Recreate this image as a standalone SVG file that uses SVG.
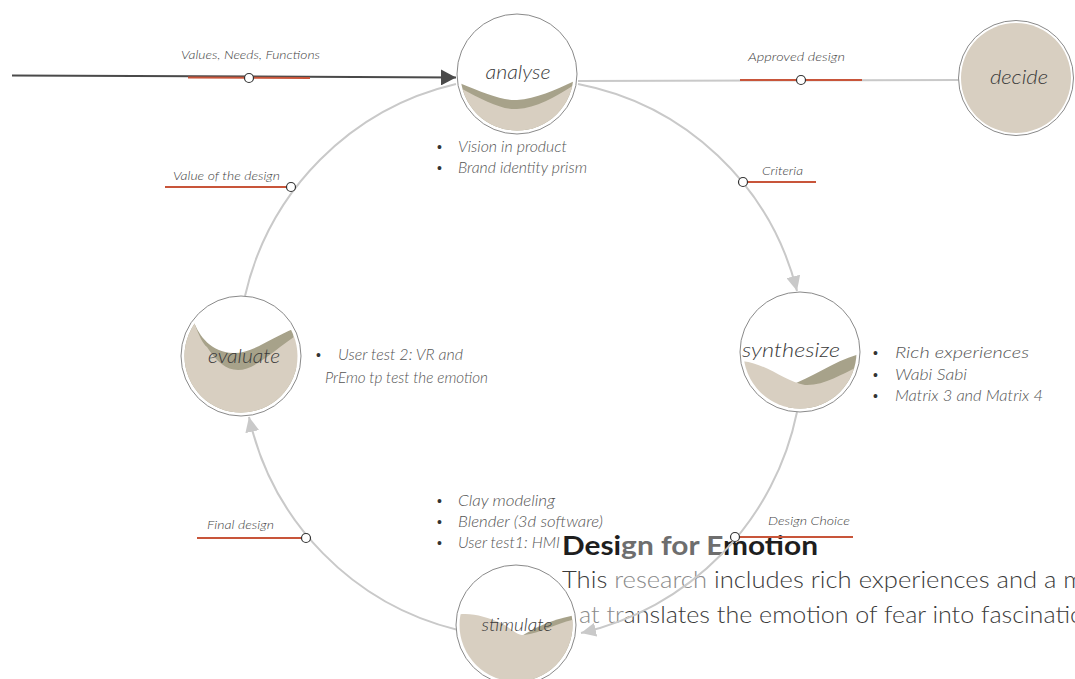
<svg xmlns="http://www.w3.org/2000/svg" width="1075" height="679" viewBox="0 0 1075 679">
  <style>
    .lbl { font-family: Lato, "Open Sans", "Liberation Sans", sans-serif; font-style: italic; font-weight: 300; font-size: 12.5px; fill: #444; }
    .bul { font-family: Lato, "Open Sans", "Liberation Sans", sans-serif; font-style: italic; font-weight: 300; font-size: 15px; fill: #555; }
    .dot { font-family: "Liberation Sans", sans-serif; font-size: 14px; fill: #333; }
    .name { font-family: Lato, "Open Sans", "Liberation Sans", sans-serif; font-style: italic; font-weight: 300; font-size: 20px; fill: #3a3a3a; text-anchor: middle; }
    .arc { fill: none; stroke: #c9c9c9; stroke-width: 2; }
    .tag { stroke: #c8553a; stroke-width: 2; }
    .pin { fill: #fff; stroke: #333; stroke-width: 1.2; }
    .ring { fill: #fff; stroke: #8a8a8a; stroke-width: 1; }
    .beige { fill: #d8cfc1; }
    .olive { fill: #a7a28a; }
    .title { font-family: Lato, "Open Sans", "Liberation Sans", sans-serif; font-weight: 700; font-size: 27px; }
    .para { font-family: Lato, "Open Sans", "Liberation Sans", sans-serif; font-weight: 300; font-size: 24px; fill: #3a3a3a; }
  </style>
  <defs>
    <clipPath id="inner" clipPathUnits="userSpaceOnUse">
      <circle cx="0" cy="0" r="56.5"/>
    </clipPath>
    <marker id="arrGray" markerUnits="userSpaceOnUse" markerWidth="16" markerHeight="14" refX="15" refY="7" orient="auto">
      <path d="M0,0 L15,7 L0,14 Z" fill="#c9c9c9"/>
    </marker>
    <marker id="arrDark" markerUnits="userSpaceOnUse" markerWidth="16" markerHeight="16" refX="15" refY="8" orient="auto">
      <path d="M0,0 L15,8 L0,16 Z" fill="#4a4a4a"/>
    </marker>
  </defs>

  <rect width="1075" height="679" fill="#fff"/>

  <!-- bullet notes beside each phase -->
  <g id="notes">
    <text class="dot" x="437" y="152">•</text>
    <text class="bul" x="458" y="152" textLength="109" lengthAdjust="spacingAndGlyphs">Vision in product</text>
    <text class="dot" x="437" y="173">•</text>
    <text class="bul" x="458" y="173" textLength="129" lengthAdjust="spacingAndGlyphs">Brand identity prism</text>

    <text class="dot" x="873" y="358">•</text>
    <text class="bul" x="895" y="358" textLength="134" lengthAdjust="spacingAndGlyphs">Rich experiences</text>
    <text class="dot" x="873" y="380">•</text>
    <text class="bul" x="895" y="380" textLength="72" lengthAdjust="spacingAndGlyphs">Wabi Sabi</text>
    <text class="dot" x="873" y="401">•</text>
    <text class="bul" x="895" y="401" textLength="148" lengthAdjust="spacingAndGlyphs">Matrix 3 and Matrix 4</text>

    <text class="dot" x="316" y="360">•</text>
    <text class="bul" x="338" y="360" textLength="125" lengthAdjust="spacingAndGlyphs">User test 2: VR and</text>
    <text class="bul" x="325" y="383" textLength="163" lengthAdjust="spacingAndGlyphs">PrEmo tp test the emotion</text>

    <text class="dot" x="437" y="506">•</text>
    <text class="bul" x="458" y="506" textLength="97" lengthAdjust="spacingAndGlyphs">Clay modeling</text>
    <text class="dot" x="437" y="527">•</text>
    <text class="bul" x="458" y="527" textLength="145" lengthAdjust="spacingAndGlyphs">Blender (3d software)</text>
    <text class="dot" x="437" y="548">•</text>
    <text class="bul" x="458" y="548" textLength="102" lengthAdjust="spacingAndGlyphs">User test1: HMI</text>
  </g>

  <!-- heading and description -->
  <g id="caption">
    <text class="title" x="562" y="555" textLength="256" lengthAdjust="spacingAndGlyphs"><tspan fill="#1e1e1e">Desi</tspan><tspan fill="#6e6e6e">gn for E</tspan><tspan fill="#1e1e1e">motion</tspan></text>
    <text class="para" x="562" y="588" textLength="522" lengthAdjust="spacingAndGlyphs">This <tspan fill="#8a8a8a">research</tspan> includes rich experiences and a m</text>
    <text class="para" x="579" y="623" textLength="505" lengthAdjust="spacingAndGlyphs"><tspan fill="#8a8a8a">at tr</tspan>anslates the emotion of fear into fascinatio</text>
  </g>

  <!-- connectors -->
  <g id="connectors">
    <path d="M12 75.5 L456 77.5" fill="none" stroke="#4a4a4a" stroke-width="2" marker-end="url(#arrDark)"/>
    <line class="tag" x1="188" y1="77.5" x2="310" y2="78"/>
    <line x1="578" y1="81" x2="960" y2="80" stroke="#c9c9c9" stroke-width="2"/>
    <line class="tag" x1="740" y1="80" x2="862" y2="80"/>

    <path class="arc" d="M578 84 A280 280 0 0 1 797 291" marker-end="url(#arrGray)"/>
    <path class="arc" d="M797 412 A285 285 0 0 1 581 633" marker-end="url(#arrGray)"/>
    <path class="arc" d="M458 630 A282 282 0 0 1 249 417" marker-end="url(#arrGray)"/>
    <path class="arc" d="M245 296 A282 282 0 0 1 456 84"/>

    <line class="tag" x1="165" y1="187" x2="291" y2="187"/>
    <line class="tag" x1="743" y1="182" x2="816" y2="182"/>
    <line class="tag" x1="735" y1="537" x2="853" y2="537"/>
    <line class="tag" x1="197" y1="538" x2="306" y2="538"/>

    <circle class="pin" cx="249" cy="78" r="4.5"/>
    <circle class="pin" cx="801" cy="80" r="4.5"/>
    <circle class="pin" cx="291" cy="187" r="4.5"/>
    <circle class="pin" cx="743" cy="182" r="4.5"/>
    <circle class="pin" cx="735" cy="537" r="4.5"/>
    <circle class="pin" cx="306" cy="538" r="4.5"/>

    <text class="lbl" x="181" y="59" textLength="139" lengthAdjust="spacingAndGlyphs">Values, Needs, Functions</text>
    <text class="lbl" x="748" y="61" textLength="97" lengthAdjust="spacingAndGlyphs">Approved design</text>
    <text class="lbl" x="173" y="180" textLength="107" lengthAdjust="spacingAndGlyphs">Value of the design</text>
    <text class="lbl" x="762" y="175" textLength="41" lengthAdjust="spacingAndGlyphs">Criteria</text>
    <text class="lbl" x="768" y="525" textLength="82" lengthAdjust="spacingAndGlyphs">Design Choice</text>
    <text class="lbl" x="207" y="529" textLength="67" lengthAdjust="spacingAndGlyphs">Final design</text>
  </g>

  <!-- phase nodes -->
  <g id="analyse" transform="translate(517 74)">
    <circle class="ring" r="60"/>
    <g clip-path="url(#inner)">
      <path class="olive" d="M-60 8 C-35 18 -15 27 0 26 C20 25 40 15 60 6 L60 60 L-60 60 Z"/>
      <path class="beige" d="M-60 12 C-35 26 -15 36 0 35 C20 34 40 22 60 9 L60 60 L-60 60 Z"/>
    </g>
    <text class="name" x="1" y="5" textLength="65" lengthAdjust="spacingAndGlyphs">analyse</text>
  </g>

  <g id="decide" transform="translate(1016 78)">
    <circle class="ring" r="57.5"/>
    <circle class="beige" r="55"/>
    <text class="name" x="3" y="6" textLength="58" lengthAdjust="spacingAndGlyphs">decide</text>
  </g>

  <g id="synthesize" transform="translate(800 352)">
    <circle class="ring" r="60"/>
    <g clip-path="url(#inner)">
      <path class="olive" d="M-12 34 C12 26 36 8 60 2 L60 60 L-12 60 Z"/>
      <path class="beige" d="M-60 9 C-35 10 -15 30 5 33 C25 34 45 20 60 14 L60 60 L-60 60 Z"/>
    </g>
    <text class="name" x="-9" y="5" textLength="98" lengthAdjust="spacingAndGlyphs">synthesize</text>
  </g>

  <g id="evaluate" transform="translate(241 356)">
    <circle class="ring" r="60"/>
    <g clip-path="url(#inner)">
      <path class="olive" d="M-60 -40 L-47 -34 C-42 -20 -30 -4 -8 -3 C10 -2 30 -18 52 -27 L60 60 L-60 60 Z"/>
      <path class="beige" d="M-60 -40 L-47 -34 C-42 -20 -38 -12 -34 -9 C-25 5 -15 14 -3 14 C15 14 35 -8 56 -21 L60 60 L-60 60 Z"/>
    </g>
    <text class="name" x="3" y="7" textLength="72" lengthAdjust="spacingAndGlyphs">evaluate</text>
  </g>

  <g id="stimulate" transform="translate(516 625)">
    <circle class="ring" r="60"/>
    <g clip-path="url(#inner)">
      <path class="olive" d="M4 12 C20 2 35 -5 60 -10 L60 60 L4 60 Z"/>
      <path class="beige" d="M-60 -10 C-45 -13 -30 -8 -15 -2 C-5 3 0 10 8 10 C25 8 40 -2 60 -6 L60 60 L-60 60 Z"/>
    </g>
    <text class="name" x="1" y="6" style="font-size:17px" textLength="71" lengthAdjust="spacingAndGlyphs">stimulate</text>
  </g>
</svg>
